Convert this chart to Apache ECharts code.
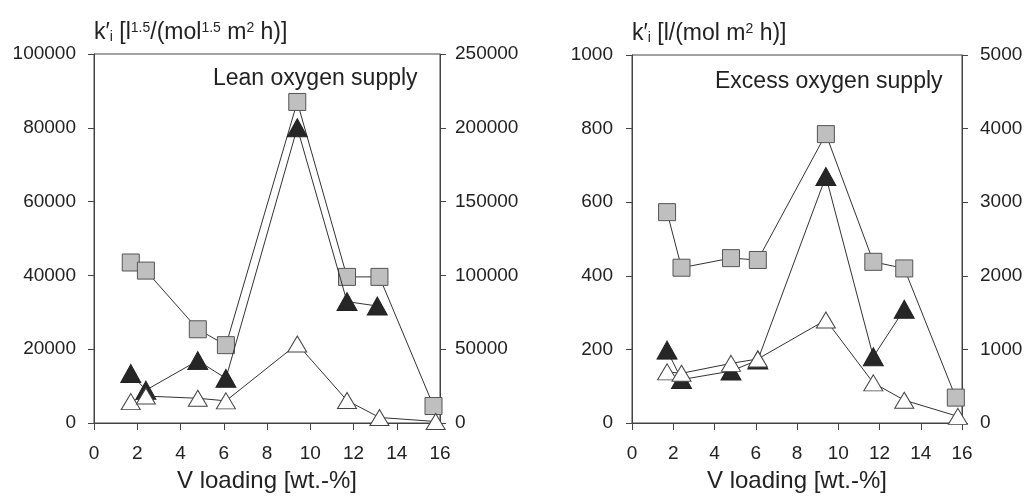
<!DOCTYPE html>
<html>
<head>
    <meta charset="utf-8">
    <script src="https://cdn.jsdelivr.net/npm/echarts@6/dist/echarts.min.js"></script>
    <style>
        body { margin: 0; background: #fff; }
        #main { width: 1030px; height: 498px; }
    </style>
</head>
<body>
    <div id="main"></div>
    <script>
        // V loading [wt.-%] and k'_i values
        // lean oxygen supply (left panel, left axis units)
        var leanSquareX = [1.7, 2.4, 4.8, 6.1, 9.4, 11.7, 13.2, 15.7];
        var leanSquareY = [43500, 41300, 25400, 21100, 87000, 39600, 39600, 4600];
        var leanBlackX = [1.7, 2.4, 4.8, 6.1, 9.4, 11.7, 13.1];
        var leanBlackY = [13400, 8900, 16900, 12100, 80000, 32900, 31700];
        var leanWhiteX = [1.7, 2.4, 4.8, 6.1, 9.4, 11.7, 13.2, 15.8];
        var leanWhiteY = [5800, 7300, 6700, 6000, 21400, 6100, 1500, 400];

        // excess oxygen supply (right panel, left axis units)
        var excSquareX = [1.7, 2.4, 4.8, 6.1, 9.4, 11.7, 13.2, 15.7];
        var excSquareY = [573, 422, 448, 443, 785, 438, 420, 69];
        var excBlackX = [1.7, 2.4, 4.8, 6.1, 9.4, 11.7, 13.2];
        var excBlackY = [198, 118, 141, 171, 670, 180, 309];
        var excWhiteX = [1.7, 2.4, 4.8, 6.1, 9.4, 11.7, 13.2, 15.8];
        var excWhiteY = [139, 135, 162, 174, 280, 109, 62, 18];

        var font = 'Liberation Sans';
        var ink = '#222';

        function pairs(xs, ys) {
            return xs.map(function (x, i) { return [x, ys[i]]; });
        }
        function plain(v) { return String(v); }

        var richName = {
            b: { fontSize: 23, fontFamily: font, color: ink },
            sub: { fontSize: 14, fontFamily: font, color: ink, verticalAlign: 'bottom' },
            sup: { fontSize: 14, fontFamily: font, color: ink, verticalAlign: 'top' }
        };

        function xAxisFor(gridIndex) {
            return {
                type: 'value', gridIndex: gridIndex, min: 0, max: 16, interval: 2,
                name: 'V loading [wt.-%]', nameLocation: 'middle', nameGap: 46,
                nameTextStyle: { fontSize: 24, fontFamily: font, color: ink },
                axisLine: { lineStyle: { color: '#444', width: 1 } },
                axisTick: { show: true, length: 7, lineStyle: { color: '#444' } },
                axisLabel: { fontSize: 19, fontFamily: font, color: ink, margin: 21, formatter: plain },
                splitLine: { show: false }
            };
        }

        function yAxisFor(gridIndex, max, interval, pos, margin, name) {
            var ax = {
                type: 'value', gridIndex: gridIndex, min: 0, max: max, interval: interval,
                position: pos,
                axisLine: { show: true, lineStyle: { color: '#444', width: 1 } },
                axisTick: { show: true, length: 6, lineStyle: { color: '#444' } },
                axisLabel: { fontSize: 19, fontFamily: font, color: ink, margin: margin, formatter: plain },
                splitLine: { show: false }
            };
            if (name) {
                ax.name = name;
                ax.nameLocation = 'end';
                ax.nameGap = 10;
                ax.nameTextStyle = { align: 'left', verticalAlign: 'bottom', rich: richName };
            }
            return ax;
        }

        function squareSeries(xi, yi, xs, ys) {
            return {
                type: 'line', xAxisIndex: xi, yAxisIndex: yi, data: pairs(xs, ys),
                symbol: 'rect', symbolSize: 17, z: 3,
                lineStyle: { color: '#333', width: 1 },
                itemStyle: { color: '#bfbfbf', borderColor: '#555', borderWidth: 1 }
            };
        }
        function blackSeries(xi, yi, xs, ys) {
            return {
                type: 'line', xAxisIndex: xi, yAxisIndex: yi, data: pairs(xs, ys),
                symbol: 'triangle', symbolSize: [20, 18], z: 4,
                lineStyle: { color: '#333', width: 1 },
                itemStyle: { color: '#262626', borderColor: '#222', borderWidth: 1 }
            };
        }
        function whiteSeries(xi, yi, xs, ys) {
            return {
                type: 'line', xAxisIndex: xi, yAxisIndex: yi, data: pairs(xs, ys),
                symbol: 'triangle', symbolSize: [19, 16], z: 5,
                lineStyle: { color: '#333', width: 1 },
                itemStyle: { color: '#ffffff', borderColor: '#444', borderWidth: 1 }
            };
        }

        var myChart = echarts.init(document.getElementById('main'));
        var option = {
            backgroundColor: '#fff',
            animation: false,
            grid: [
                { left: 94, top: 54, width: 346, height: 369, show: true, borderColor: '#444', borderWidth: 1 },
                { left: 632, top: 55, width: 330, height: 368, show: true, borderColor: '#444', borderWidth: 1 }
            ],
            xAxis: [xAxisFor(0), xAxisFor(1)],
            yAxis: [
                yAxisFor(0, 100000, 20000, 'left', 18,
                    '{b|k′}{sub|i}{b| [l}{sup|1.5}{b|/(mol}{sup|1.5}{b| m}{sup|2}{b| h)]}'),
                yAxisFor(0, 250000, 50000, 'right', 15),
                yAxisFor(1, 1000, 200, 'left', 19,
                    '{b|k′}{sub|i}{b| [l/(mol m}{sup|2}{b| h)]}'),
                yAxisFor(1, 5000, 1000, 'right', 18)
            ],
            graphic: [
                { type: 'text', left: 213, top: 67,
                  style: { text: 'Lean oxygen supply', fontSize: 23, fontFamily: font, fill: ink } },
                { type: 'text', left: 715, top: 70,
                  style: { text: 'Excess oxygen supply', fontSize: 23, fontFamily: font, fill: ink } }
            ],
            series: [
                squareSeries(0, 0, leanSquareX, leanSquareY),
                blackSeries(0, 0, leanBlackX, leanBlackY),
                whiteSeries(0, 0, leanWhiteX, leanWhiteY),
                squareSeries(1, 2, excSquareX, excSquareY),
                blackSeries(1, 2, excBlackX, excBlackY),
                whiteSeries(1, 2, excWhiteX, excWhiteY)
            ]
        };

        myChart.setOption(option);
    </script>
</body>
</html>
